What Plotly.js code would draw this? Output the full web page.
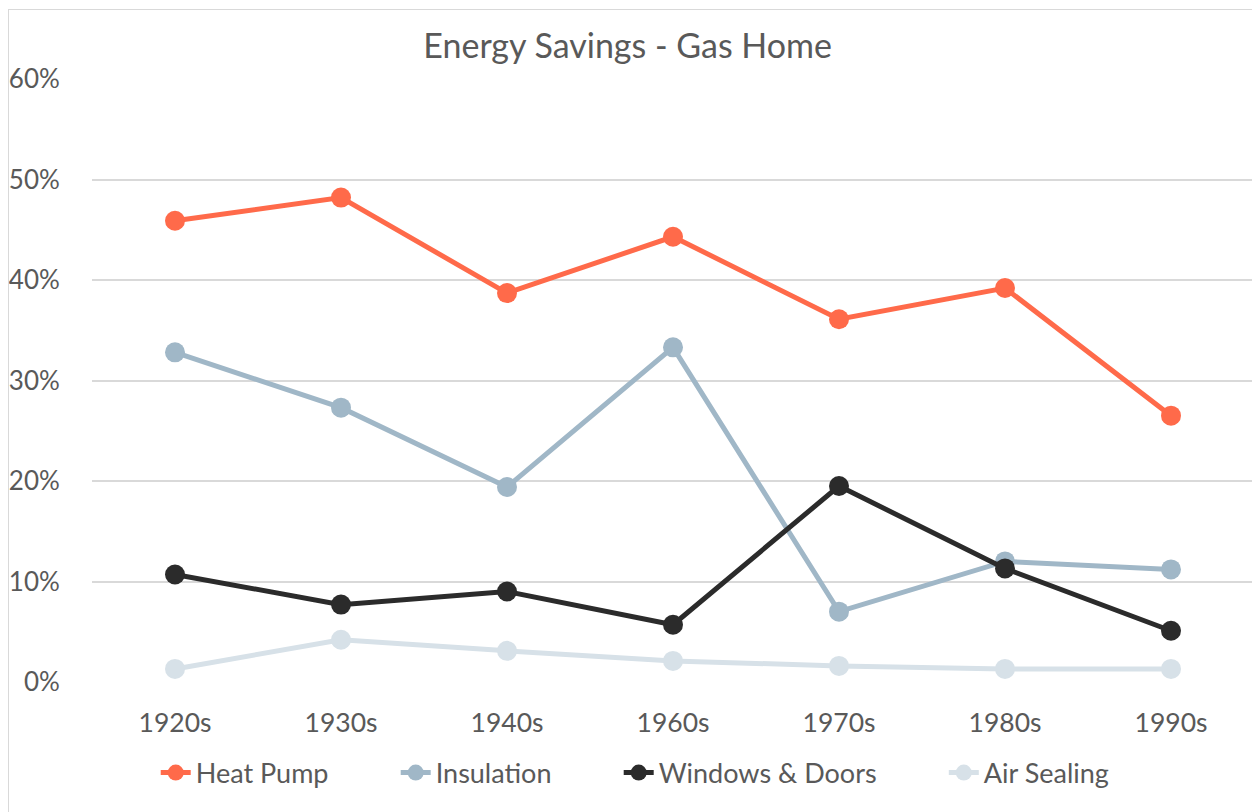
<!DOCTYPE html>
<html>
<head>
<meta charset="utf-8">
<script src="https://cdn.plot.ly/plotly-3.0.1.min.js"></script>
<style>
  html, body { margin: 0; padding: 0; background: #ffffff; overflow: hidden; width: 1252px; height: 812px; }
  #wrap { position: absolute; left: 8px; top: 9px; width: 1260px; height: 810px; border: 1px solid #d9d9d9; background: #fff; }
  #chart { width: 1260px; height: 810px; }
</style>
</head>
<body>
<div id="wrap"><div id="chart"></div></div>
<script>
const categories = ["1920s", "1930s", "1940s", "1960s", "1970s", "1980s", "1990s"];
const heatPump = [0.459, 0.482, 0.387, 0.443, 0.361, 0.392, 0.265];
const insulation = [0.328, 0.273, 0.194, 0.333, 0.070, 0.120, 0.112];
const windowsDoors = [0.107, 0.077, 0.090, 0.057, 0.195, 0.113, 0.051];
const airSealing = [0.013, 0.042, 0.031, 0.021, 0.016, 0.013, 0.013];
const seriesNames = ["Heat Pump", "Insulation", "Windows & Doors", "Air Sealing"];
const seriesColors = ["#FF6A4A", "#A0B7C7", "#2B2B2B", "#D7E1E8"];
const yTickVals = [0, 0.1, 0.2, 0.3, 0.4, 0.5, 0.6];
const yTickText = ["0%", "10%", "20%", "30%", "40%", "50%", "60%"];

const pad = "\u00A0".repeat(9);
const allSeries = [heatPump, insulation, windowsDoors, airSealing];
const traces = allSeries.map((vals, i) => ({
  type: "scatter",
  mode: "lines+markers",
  name: seriesNames[i] + (i < allSeries.length - 1 ? pad : ""),
  x: categories,
  y: vals,
  line: { color: seriesColors[i], width: 5 },
  marker: { color: seriesColors[i], size: 20 },
  hovertemplate: seriesNames[i] + ": %{y:.0%}<extra></extra>"
}));

const fontFam = "Lato, 'Open Sans', sans-serif";
const layout = {
  width: 1260,
  height: 810,
  margin: { l: 83, r: 15, t: 69, b: 138 },
  paper_bgcolor: "#ffffff",
  plot_bgcolor: "#ffffff",
  font: { family: fontFam, color: "#595959", size: 26 },
  title: {
    text: "Energy Savings - Gas Home",
    font: { family: fontFam, size: 34, color: "#595959" },
    xref: "container", x: 0.491, xanchor: "center",
    yref: "container", y: 0.9556, yanchor: "middle"
  },
  xaxis: {
    type: "category",
    range: [-0.5, 6.5],
    showgrid: false,
    zeroline: false,
    showline: false,
    ticks: "outside",
    ticklen: 17,
    tickcolor: "rgba(0,0,0,0)",
    tickfont: { family: fontFam, size: 26.5, color: "#595959" },
    fixedrange: true
  },
  yaxis: {
    range: [0, 0.6],
    tickvals: yTickVals,
    ticktext: yTickText,
    showgrid: true,
    gridcolor: "#d9d9d9",
    gridwidth: 1.5,
    zeroline: false,
    showline: false,
    ticks: "outside",
    ticklen: 26,
    tickcolor: "rgba(0,0,0,0)",
    tickfont: { family: fontFam, size: 26, color: "#595959" },
    fixedrange: true
  },
  showlegend: true,
  legend: {
    orientation: "h",
    xref: "container", x: 0.497, xanchor: "center",
    yref: "container", y: 0.058, yanchor: "middle",
    font: { family: fontFam, size: 27, color: "#595959" },
    traceorder: "normal"
  }
};

Plotly.newPlot("chart", traces, layout, { displayModeBar: false });
</script>
</body>
</html>
